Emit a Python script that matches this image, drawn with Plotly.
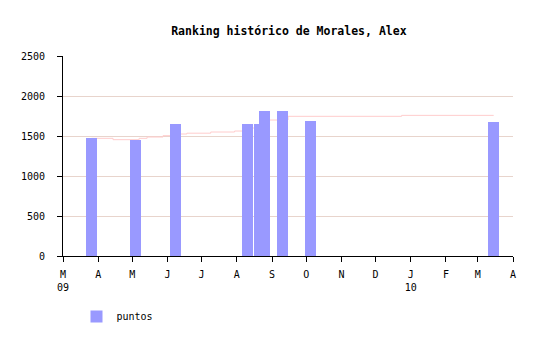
import plotly.graph_objects as go

# Bars: dates and points
bar_dates = ["2009-03-26", "2009-05-04", "2009-06-08", "2009-08-10", "2009-08-21",
             "2009-08-25", "2009-09-10", "2009-10-05", "2010-03-15"]
bar_values = [1475, 1455, 1655, 1655, 1655, 1815, 1815, 1690, 1675]

# Step line (running level)
line_dates = ["2009-03-26", "2009-04-14", "2009-05-07", "2009-05-14", "2009-05-28",
              "2009-06-08", "2009-06-18", "2009-07-09", "2009-07-30", "2009-08-10",
              "2009-08-21", "2009-08-25", "2009-09-15", "2009-12-24", "2010-03-15"]
line_values = [1471, 1454, 1471, 1487, 1504, 1525, 1535, 1550, 1562, 1600,
               1650, 1700, 1746, 1758, 1758]

tick_dates = ["2009-03-01", "2009-04-01", "2009-05-01", "2009-06-01", "2009-07-01",
              "2009-08-01", "2009-09-01", "2009-10-01", "2009-11-01", "2009-12-01",
              "2010-01-01", "2010-02-01", "2010-03-01", "2010-04-01"]
tick_text = ["M<br>09", "A", "M", "J", "J", "A", "S", "O", "N", "D", "J<br>10", "F", "M", "A"]

y_ticks = [0, 500, 1000, 1500, 2000, 2500]

DAY_MS = 86400000

fig = go.Figure()
fig.add_trace(go.Scatter(
    x=line_dates, y=line_values, mode="lines", line=dict(color="#ffcccc", width=1, shape="hv"),
    showlegend=False, hoverinfo="skip", xaxis="x", yaxis="y"))
fig.add_trace(go.Bar(
    x=bar_dates, y=bar_values, width=[9.7 * DAY_MS] * len(bar_dates),
    marker=dict(color="#9999ff", line=dict(width=0)), name="puntos", showlegend=True,
    xaxis="x", yaxis="y2"))

fig.update_layout(
    width=540, height=340,
    margin=dict(l=63, r=27, t=56, b=84, autoexpand=False),
    paper_bgcolor="white", plot_bgcolor="white",
    font=dict(family="DejaVu Sans Mono", size=10, color="black"),
    title=dict(text="<b>Ranking histórico de Morales, Alex</b>", x=0.535, xanchor="center",
               y=1 - 31 / 340, yanchor="middle", font=dict(size=11.5, family="DejaVu Sans Mono")),
    showlegend=True,
    legend=dict(x=0.03, y=-0.23, xanchor="left", yanchor="top", orientation="h",
                font=dict(size=10), bgcolor="rgba(0,0,0,0)"),
    bargap=0,
    xaxis=dict(
        type="date", range=["2009-03-01", "2010-04-01"],
        tickmode="array", tickvals=tick_dates, ticktext=tick_text,
        ticks="outside", ticklen=5, tickcolor="black", tickwidth=1,
        showline=True, linecolor="black", linewidth=1, showgrid=False, zeroline=False,
        tickangle=0, automargin=False, ticklabelstandoff=4,
    ),
    yaxis=dict(
        range=[0, 2500], tickmode="array", tickvals=y_ticks,
        ticks="outside", ticklen=5, tickcolor="black", tickwidth=1,
        showline=True, linecolor="black", linewidth=1,
        showgrid=True, gridcolor="#e8d4cc", gridwidth=1, zeroline=False,
        automargin=False, ticklabelstandoff=10,
    ),
    yaxis2=dict(
        range=[0, 2500], overlaying="y", side="left", visible=False,
        showgrid=False, zeroline=False,
    ),
)

fig.write_html("out.html")
